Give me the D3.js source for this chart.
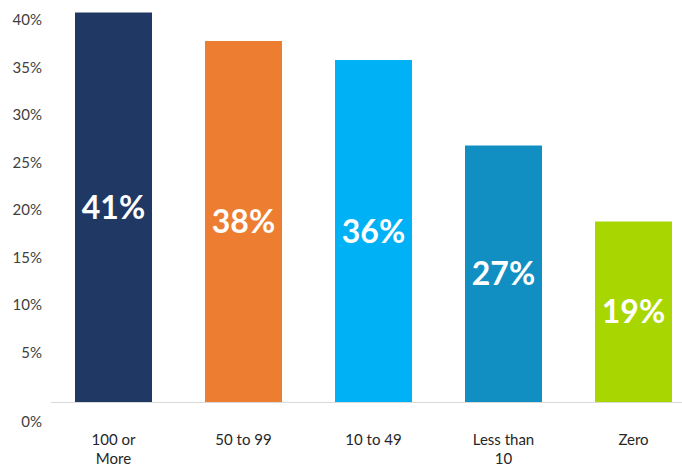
<!DOCTYPE html>
<html>
<head>
<meta charset="utf-8">
<script src="https://cdn.jsdelivr.net/npm/d3@7"></script>
<style>
  html, body { margin: 0; padding: 0; background: #fff; }
  svg { display: block; font-family: "Century Gothic", Lato, "Open Sans", sans-serif; }
</style>
</head>
<body>
<svg id="chart" width="682" height="468"></svg>
<script>
// data
const categories = [["100 or", "More"], ["50 to 99"], ["10 to 49"], ["Less than", "10"], ["Zero"]];
const values = [41, 38, 36, 27, 19];
const colors = ["#1F3864", "#ED7D31", "#00B2F5", "#118FC3", "#A8D600"];
const tickValues = [0, 5, 10, 15, 20, 25, 30, 35, 40];

const svg = d3.select("#chart");
const w = 682, h = 468;
const baseY = 402;

const x = d3.scaleBand()
  .domain(d3.range(values.length))
  .range([48.5, 698.5])
  .paddingInner(0.4077)
  .paddingOuter(0.2038);

const y = d3.scaleLinear()
  .domain([0, 40])
  .range([baseY, 22]);

// bars
svg.append("g")
  .selectAll("rect")
  .data(values)
  .enter()
  .append("rect")
  .attr("x", (d, i) => x(i))
  .attr("y", d => y(d))
  .attr("width", x.bandwidth())
  .attr("height", d => baseY - y(d))
  .attr("fill", (d, i) => colors[i]);

// baseline
svg.append("line")
  .attr("x1", 51).attr("x2", w)
  .attr("y1", baseY + 0.5).attr("y2", baseY + 0.5)
  .attr("stroke", "#d9d9d9")
  .attr("stroke-width", 1);

// y tick labels (0% sits below the baseline in the original)
svg.append("g")
  .selectAll("text")
  .data(tickValues)
  .enter()
  .append("text")
  .attr("x", 42)
  .attr("y", d => d === 0 ? y(d) + 20 : y(d) - 2)
  .attr("dy", "0.35em")
  .attr("text-anchor", "end")
  .attr("font-size", 15)
  .attr("fill", "#404040")
  .text(d => d + "%");

// value labels
svg.append("g")
  .selectAll("text")
  .data(values)
  .enter()
  .append("text")
  .attr("x", (d, i) => x(i) + x.bandwidth() / 2)
  .attr("y", d => (y(d) + baseY) / 2)
  .attr("dy", "0.36em")
  .attr("text-anchor", "middle")
  .attr("font-size", 32)
  .attr("font-weight", "bold")
  .attr("fill", "#ffffff")
  .text(d => d + "%");

// category labels
const cat = svg.append("g")
  .selectAll("text")
  .data(categories)
  .enter()
  .append("text")
  .attr("x", (d, i) => x(i) + x.bandwidth() / 2)
  .attr("y", 440)
  .attr("text-anchor", "middle")
  .attr("font-size", 15)
  .attr("fill", "#262626");

cat.selectAll("tspan")
  .data(d => d)
  .enter()
  .append("tspan")
  .attr("x", function () { return d3.select(this.parentNode).attr("x"); })
  .attr("dy", (d, i) => i === 0 ? "0.35em" : "19px")
  .text(d => d);
</script>
</body>
</html>
